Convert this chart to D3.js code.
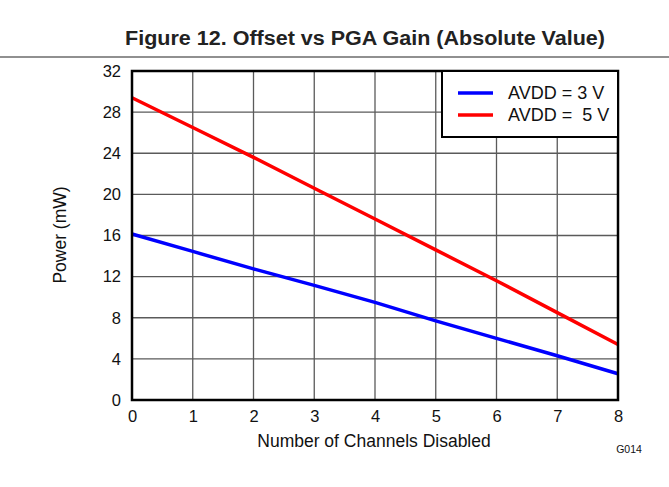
<!DOCTYPE html>
<html><head><meta charset="utf-8">
<script src="https://cdn.jsdelivr.net/npm/d3@7"></script>
<style>body{margin:0;background:#fff}svg{display:block}text{font-family:"Liberation Sans",Arial,sans-serif}</style>
</head><body>
<svg id="c" width="669" height="487"></svg>
<script>
const channels = [0,1,2,3,4,5,6,7,8];
const avdd3 = [16.15,14.45,12.75,11.15,9.5,7.7,6.0,4.3,2.55];
const avdd5 = [29.4,26.5,23.6,20.6,17.6,14.6,11.6,8.5,5.4];
const seriesNames = ["AVDD = 3 V","AVDD =  5 V"];
const seriesColors = ["#0000ff","#ff0000"];
const xTicks = [0,1,2,3,4,5,6,7,8];
const yTicks = [0,4,8,12,16,20,24,28,32];

const svg = d3.select("#c");
const L=132,R=618,T=71,B=400;
const x = d3.scaleLinear().domain([0,8]).range([L,R]);
const y = d3.scaleLinear().domain([0,32]).range([B,T]);

svg.append("text").attr("x",365).attr("y",45).attr("text-anchor","middle")
  .attr("font-size",20).attr("font-weight","bold").attr("fill","#222")
  .attr("textLength",480).attr("lengthAdjust","spacingAndGlyphs")
  .text("Figure 12. Offset vs PGA Gain (Absolute Value)");
svg.append("line").attr("x1",0).attr("x2",669).attr("y1",57).attr("y2",57).attr("stroke","#222").attr("stroke-width",1.2);

// grid
svg.append("g").selectAll("line").data(xTicks.slice(1,-1)).join("line")
  .attr("x1",d=>x(d)).attr("x2",d=>x(d)).attr("y1",T).attr("y2",B)
  .attr("stroke","#5a5a5a").attr("stroke-width",1.3);
svg.append("g").selectAll("line").data(yTicks.slice(1,-1)).join("line")
  .attr("x1",L).attr("x2",R).attr("y1",d=>y(d)).attr("y2",d=>y(d))
  .attr("stroke","#5a5a5a").attr("stroke-width",1.3);

// axes tick labels
const xa = d3.axisBottom(x).tickValues(xTicks).tickSize(0).tickPadding(10).tickFormat(d3.format("d"));
const gx = svg.append("g").attr("transform",`translate(0,${B})`).call(xa);
gx.select(".domain").remove();
gx.selectAll("text").attr("font-size",16.5).attr("fill","#111").attr("font-family","Liberation Sans, Arial, sans-serif");
const ya = d3.axisLeft(y).tickValues(yTicks).tickSize(0).tickPadding(11).tickFormat(d3.format("d"));
const gy = svg.append("g").attr("transform",`translate(${L},0)`).call(ya);
gy.select(".domain").remove();
gy.selectAll("text").attr("font-size",16.5).attr("fill","#111").attr("font-family","Liberation Sans, Arial, sans-serif");

// lines
const line = d3.line().x((d,i)=>x(channels[i])).y(d=>y(d));
[avdd3,avdd5].forEach((s,k)=>{
  svg.append("path").datum(s).attr("d",line).attr("fill","none")
    .attr("stroke",seriesColors[k]).attr("stroke-width",3.5);
});

// frame
svg.append("rect").attr("x",L).attr("y",T).attr("width",R-L).attr("height",B-T)
  .attr("fill","none").attr("stroke","#000").attr("stroke-width",2.5);

// legend
const lg = svg.append("g");
lg.append("rect").attr("x",442).attr("y",71).attr("width",176).attr("height",66)
  .attr("fill","#fff").attr("stroke","#000").attr("stroke-width",2);
seriesNames.forEach((n,k)=>{
  const yy = 93 + k*22;
  lg.append("line").attr("x1",458).attr("x2",493).attr("y1",yy).attr("y2",yy)
    .attr("stroke",seriesColors[k]).attr("stroke-width",3.5);
  lg.append("text").attr("x",508).attr("y",yy+6).attr("font-size",18).attr("fill","#111")
    .style("white-space","pre").attr("xml:space","preserve").text(n);
});

// axis titles
svg.append("text").attr("transform","translate(66,235) rotate(-90)").attr("text-anchor","middle")
  .attr("font-size",17.5).attr("fill","#111").text("Power (mW)");
svg.append("text").attr("x",374).attr("y",447).attr("text-anchor","middle")
  .attr("font-size",17.5).attr("fill","#111").text("Number of Channels Disabled");
svg.append("text").attr("x",629).attr("y",453).attr("text-anchor","middle")
  .attr("font-size",10.5).attr("fill","#111").text("G014");
</script>
</body></html>
